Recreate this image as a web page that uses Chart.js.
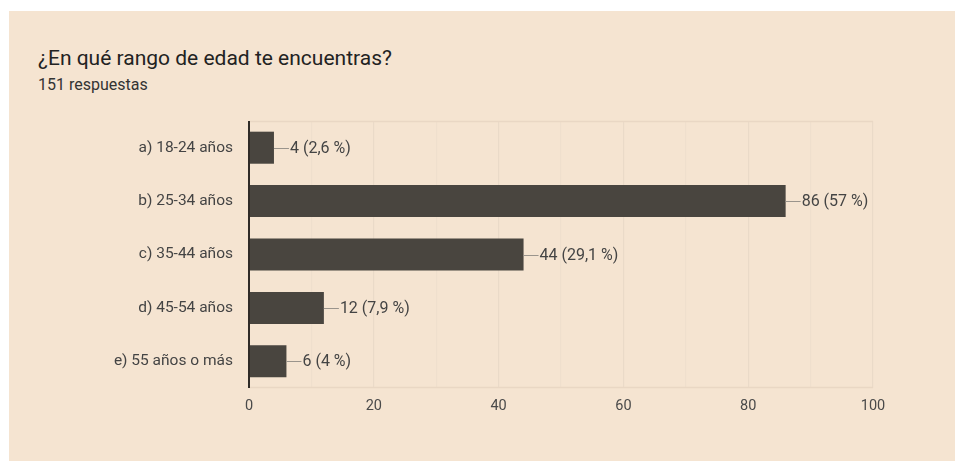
<!DOCTYPE html>
<html>
<head>
<meta charset="utf-8">
<script src="https://cdn.jsdelivr.net/npm/chart.js@4/dist/chart.umd.min.js"></script>
<style>
  html, body { margin: 0; padding: 0; background: #ffffff; width: 955px; height: 461px; overflow: hidden; }
  #card { position: absolute; left: 9px; top: 11px; width: 946px; height: 450px; background: #f5e4d1; }
  #title { position: absolute; left: 38px; top: 46px; font-family: Roboto, sans-serif; font-size: 21px; color: #222; white-space: nowrap; }
  #sub { position: absolute; left: 38px; top: 75px; font-family: Roboto, sans-serif; font-size: 16px; color: #333; white-space: nowrap; }
  #wrap { position: absolute; left: 0; top: 0; width: 955px; height: 461px; }
</style>
</head>
<body>
<div id="card"></div>
<div id="title">¿En qué rango de edad te encuentras?</div>
<div id="sub">151 respuestas</div>
<div id="wrap"><canvas id="c" width="955" height="461"></canvas></div>
<script>
const categories = ['a) 18-24 años', 'b) 25-34 años', 'c) 35-44 años', 'd) 45-54 años', 'e) 55 años o más'];
const counts = [4, 86, 44, 12, 6];
const percents = ['2,6', '57', '29,1', '7,9', '4'];
const xTicks = [0, 20, 40, 60, 80, 100];

const valueLabels = {
  id: 'valueLabels',
  afterDatasetsDraw(chart) {
    const ctx = chart.ctx;
    const meta = chart.getDatasetMeta(0);
    ctx.save();
    meta.data.forEach((bar, i) => {
      const x = bar.x, y = bar.y;
      ctx.strokeStyle = '#9a948c';
      ctx.lineWidth = 1;
      ctx.beginPath();
      ctx.moveTo(x, Math.round(y) + 0.5);
      ctx.lineTo(x + 15, Math.round(y) + 0.5);
      ctx.stroke();
      ctx.fillStyle = '#444';
      ctx.font = '16px Roboto';
      ctx.textBaseline = 'middle';
      ctx.textAlign = 'left';
      ctx.fillText(counts[i] + ' (' + percents[i] + ' %)', x + 16, y + 1);
    });
    ctx.restore();
  }
};

const frame = {
  id: 'frame',
  beforeDatasetsDraw(chart) {
    const a = chart.chartArea, ctx = chart.ctx;
    ctx.save();
    ctx.strokeStyle = '#e9d7c4';
    ctx.lineWidth = 1.5;
    ctx.beginPath();
    ctx.moveTo(a.left, a.top + 0.5);
    ctx.lineTo(a.right, a.top + 0.5);
    ctx.moveTo(a.left, a.bottom - 0.5);
    ctx.lineTo(a.right, a.bottom - 0.5);
    ctx.stroke();
    ctx.restore();
  },
  afterDatasetsDraw(chart) {
    const a = chart.chartArea, ctx = chart.ctx;
    ctx.save();
    ctx.strokeStyle = '#2f2b27';
    ctx.lineWidth = 2;
    ctx.beginPath();
    ctx.moveTo(a.left, a.top);
    ctx.lineTo(a.left, a.bottom);
    ctx.stroke();
    ctx.restore();
  }
};

new Chart(document.getElementById('c'), {
  type: 'bar',
  data: {
    labels: categories,
    datasets: [{
      data: counts,
      backgroundColor: '#49453f',
      borderColor: '#49453f',
      borderWidth: 0,
      categoryPercentage: 0.6,
      barPercentage: 1.0
    }]
  },
  options: {
    indexAxis: 'y',
    responsive: false,
    animation: false,
    devicePixelRatio: 1,
    layout: { padding: { left: 0, right: 82, top: 121, bottom: 0 } },
    plugins: { legend: { display: false }, tooltip: { enabled: false }, title: { display: false } },
    scales: {
      x: {
        min: 0, max: 100,
        afterFit(s) { s.height = 73; },
        afterBuildTicks(s) { s.ticks = []; for (let v = 0; v <= 100; v += 10) s.ticks.push({ value: v }); },
        ticks: {
          padding: 10,
          color: '#4a4a4a',
          font: { family: 'Roboto', size: 14.5 },
          maxRotation: 0,
          autoSkip: false,
          callback(v) { return xTicks.includes(v) ? String(v) : ''; }
        },
        grid: {
          drawTicks: false,
          color(ctx) { return (ctx.tick && ctx.tick.value % 20 === 0) ? '#eadac8' : '#efdfcd'; },
          lineWidth: 1.2
        },
        border: { display: false }
      },
      y: {
        afterFit(s) { s.width = 249; },
        ticks: {
          padding: 16,
          color: '#444',
          font: { family: 'Roboto', size: 15.5 }
        },
        grid: { display: false, drawTicks: false },
        border: { display: false }
      }
    }
  },
  plugins: [frame, valueLabels]
});
</script>
</body>
</html>
